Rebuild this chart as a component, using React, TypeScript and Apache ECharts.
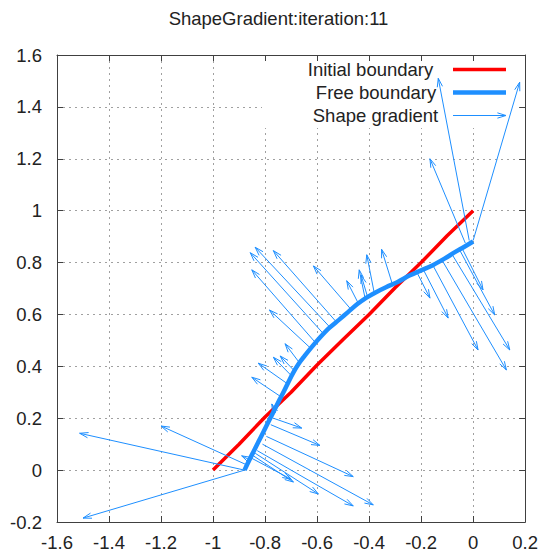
import React, { useEffect, useRef } from "react";
import * as echarts from "echarts";

const chartTitle = "ShapeGradient:iteration:11";
const xTicks = [-1.6, -1.4, -1.2, -1, -0.8, -0.6, -0.4, -0.2, 0, 0.2];
const yTicks = [-0.2, 0, 0.2, 0.4, 0.6, 0.8, 1, 1.2, 1.4, 1.6];
const legendNames = ["Initial boundary", "Free boundary", "Shape gradient"];

// Initial boundary (red)
const initX = [-1, -0.9, -0.8, -0.7, -0.6, -0.5, -0.4, -0.3, -0.2, -0.1, 0];
const initY = [0, 0.1, 0.205, 0.3, 0.405, 0.503, 0.6, 0.703, 0.8, 0.903, 1];

// Free boundary (blue)
const freeX = [-0.879, -0.86, -0.845, -0.825, -0.805, -0.785, -0.765, -0.745, -0.727, -0.71, -0.692, -0.672, -0.648, -0.62, -0.588, -0.553, -0.515, -0.48, -0.445, -0.41, -0.375, -0.335, -0.29, -0.245, -0.2, -0.155, -0.11, -0.07, -0.035, 0];
const freeY = [0, 0.04, 0.07, 0.11, 0.15, 0.19, 0.23, 0.27, 0.305, 0.34, 0.375, 0.408, 0.44, 0.475, 0.512, 0.548, 0.58, 0.61, 0.64, 0.665, 0.685, 0.705, 0.725, 0.75, 0.77, 0.79, 0.815, 0.84, 0.86, 0.881];

// Shape gradient vectors: tail (x0, y0) -> head (x1, y1)
const gradX0 = [
  -0.879, -0.879, -0.87, -0.86,
  -0.768, -0.778, -0.795, -0.81, -0.83, -0.838, -0.845, -0.85,
  -0.76, -0.735, -0.71, -0.695, -0.685, -0.665, -0.625, -0.605, -0.575, -0.55, -0.525, -0.47,
  -0.44, -0.415, -0.405, -0.38, -0.31,
  -0.215, -0.19, -0.155, -0.12, -0.08, -0.05, -0.04,
  -0.015, 0, -0.03,
];
const gradY0 = [
  0, 0, 0.02, 0.04,
  0.2, 0.175, 0.13, 0.1, 0.075, 0.065, 0.055, 0.045,
  0.22, 0.28, 0.33, 0.36, 0.38, 0.41, 0.47, 0.49, 0.525, 0.55, 0.57, 0.62,
  0.64, 0.66, 0.665, 0.682, 0.715,
  0.76, 0.77, 0.79, 0.81, 0.83, 0.845, 0.85,
  0.885, 0.885, 0.875,
];
const gradX1 = [
  -1.513, -1.5, -1.2, -0.89,
  -0.659, -0.589, -0.461, -0.384, -0.461, -0.595, -0.691, -0.70,
  -0.774, -0.851, -0.826, -0.768, -0.742, -0.723, -0.783, -0.851, -0.857, -0.838, -0.768, -0.614,
  -0.486, -0.438, -0.431, -0.409, -0.352,
  -0.166, -0.096, 0.019, 0.128, 0.141, 0.083, 0.038,
  -0.134, 0.179, -0.166,
];
const gradY1 = [
  0.142, -0.185, 0.17, 0.055,
  0.162, 0.095, -0.025, -0.134, -0.138, -0.092, -0.046, -0.035,
  0.255, 0.358, 0.412, 0.435, 0.44, 0.487, 0.617, 0.772, 0.838, 0.859, 0.846, 0.787,
  0.73, 0.772, 0.752, 0.83, 0.851,
  0.663, 0.586, 0.463, 0.386, 0.463, 0.598, 0.695,
  1.51, 1.495, 1.2,
];

const RED = "#ff0000";
const BLUE = "#1e8fff";
const FONT = "'Liberation Sans', Arial, sans-serif";
const FS = 18.5;
const TXT = "#222";

function fmt(v: number) {
  const r = Math.round(v * 10) / 10;
  return String(Object.is(r, -0) ? 0 : r);
}

function headPoints(x0: number, y0: number, x1: number, y1: number) {
  const ang = Math.atan2(y1 - y0, x1 - x0);
  const L = 9;
  const a = 0.3;
  return [
    [x1 - L * Math.cos(ang - a), y1 - L * Math.sin(ang - a)],
    [x1, y1],
    [x1 - L * Math.cos(ang + a), y1 - L * Math.sin(ang + a)],
  ];
}

export default function App() {
  const ref = useRef<HTMLDivElement>(null);
  useEffect(() => {
    if (!ref.current) return;
    const chart = echarts.init(ref.current, null, { renderer: "svg" });
    const initData = initX.map((x, i) => [x, initY[i]]);
    const freeData = freeX.map((x, i) => [x, freeY[i]]);
    const gradData = gradX0.map((x, i) => [x, gradY0[i], gradX1[i], gradY1[i]]);

    const axisCommon = {
      type: "value" as const,
      interval: 0.2,
      axisLine: { show: true, onZero: false, lineStyle: { color: "#404040", width: 1 } },
      axisTick: { show: true, inside: true, length: 6, lineStyle: { color: "#404040" } },
    };

    const legY = [69.5, 92.5, 115.5];
    const legTextCx = [370.5, 376, 375.5];
    const legL0 = 453;
    const legL1 = 506;

    chart.setOption({
      animation: false,
      backgroundColor: "#ffffff",
      grid: { left: 57, right: 15, top: 55, bottom: 38, containLabel: false },
      xAxis: [
        {
          ...axisCommon,
          min: -1.6,
          max: 0.2,
          position: "bottom",
          z: 0,
          axisLabel: {
            margin: 11,
            fontSize: FS,
            fontFamily: FONT,
            color: TXT,
            formatter: (v: number) => (xTicks.some((t) => Math.abs(t - v) < 1e-6) ? fmt(v) : ""),
          },
          splitLine: { show: true, lineStyle: { color: "#a0a0a0", type: [2, 4], width: 1 } },
        },
        {
          ...axisCommon,
          min: -1.6,
          max: 0.2,
          position: "top",
          z: 5,
          axisLabel: { show: false },
          splitLine: { show: false },
        },
      ],
      yAxis: [
        {
          ...axisCommon,
          min: -0.2,
          max: 1.6,
          position: "left",
          z: 0,
          axisLabel: {
            margin: 15,
            fontSize: FS,
            fontFamily: FONT,
            color: TXT,
            formatter: (v: number) => (yTicks.some((t) => Math.abs(t - v) < 1e-6) ? fmt(v) : ""),
          },
          splitLine: { show: true, lineStyle: { color: "#a0a0a0", type: [2, 4], width: 1 } },
        },
        {
          ...axisCommon,
          min: -0.2,
          max: 1.6,
          position: "right",
          z: 5,
          axisLabel: { show: false },
          splitLine: { show: false },
        },
      ],
      graphic: [
        {
          type: "text",
          x: 278.5,
          y: 18,
          z: 10,
          style: { text: chartTitle, fontSize: FS, fontFamily: FONT, fill: TXT, align: "center", verticalAlign: "middle" },
        },
        {
          type: "rect",
          z: 1,
          shape: { x: 262, y: 56, width: 262, height: 72 },
          style: { fill: "#ffffff" },
        },
        ...legendNames.map((name, i) => ({
          type: "text",
          x: legTextCx[i],
          y: legY[i],
          z: 10,
          style: { text: name, fontSize: FS, fontFamily: FONT, fill: TXT, align: "center", verticalAlign: "middle" },
        })),
        {
          type: "line",
          z: 10,
          shape: { x1: legL0, y1: legY[0], x2: legL1, y2: legY[0] },
          style: { stroke: RED, lineWidth: 3.5 },
        },
        {
          type: "line",
          z: 10,
          shape: { x1: legL0, y1: legY[1], x2: legL1, y2: legY[1] },
          style: { stroke: BLUE, lineWidth: 4.5 },
        },
        {
          type: "line",
          z: 10,
          shape: { x1: legL0, y1: legY[2], x2: legL1, y2: legY[2] },
          style: { stroke: BLUE, lineWidth: 1 },
        },
        {
          type: "polyline",
          z: 10,
          shape: { points: headPoints(legL0, legY[2], legL1, legY[2]) },
          style: { stroke: BLUE, fill: "none", lineWidth: 1 },
        },
      ],
      series: [
        {
          type: "line",
          name: legendNames[0],
          data: initData,
          showSymbol: false,
          symbol: "none",
          z: 3,
          lineStyle: { color: RED, width: 3.5 },
        },
        {
          type: "line",
          name: legendNames[1],
          data: freeData,
          showSymbol: false,
          symbol: "none",
          smooth: 0.35,
          z: 4,
          lineStyle: { color: BLUE, width: 4.5 },
        },
        {
          type: "custom",
          name: legendNames[2],
          z: 5,
          data: gradData,
          encode: { x: [0, 2], y: [1, 3] },
          renderItem: (params: any, api: any) => {
            const p0 = api.coord([api.value(0), api.value(1)]);
            const p1 = api.coord([api.value(2), api.value(3)]);
            return {
              type: "group",
              children: [
                {
                  type: "line",
                  shape: { x1: p0[0], y1: p0[1], x2: p1[0], y2: p1[1] },
                  style: { stroke: BLUE, lineWidth: 1, fill: "none" },
                },
                {
                  type: "polyline",
                  shape: { points: headPoints(p0[0], p0[1], p1[0], p1[1]) },
                  style: { stroke: BLUE, lineWidth: 1, fill: "none" },
                },
              ],
            };
          },
        },
      ],
    });
    return () => chart.dispose();
  }, []);
  return (
    <div
      ref={ref}
      style={{ position: "fixed", left: 0, top: 0, width: 541, height: 560, background: "#fff" }}
    />
  );
}
